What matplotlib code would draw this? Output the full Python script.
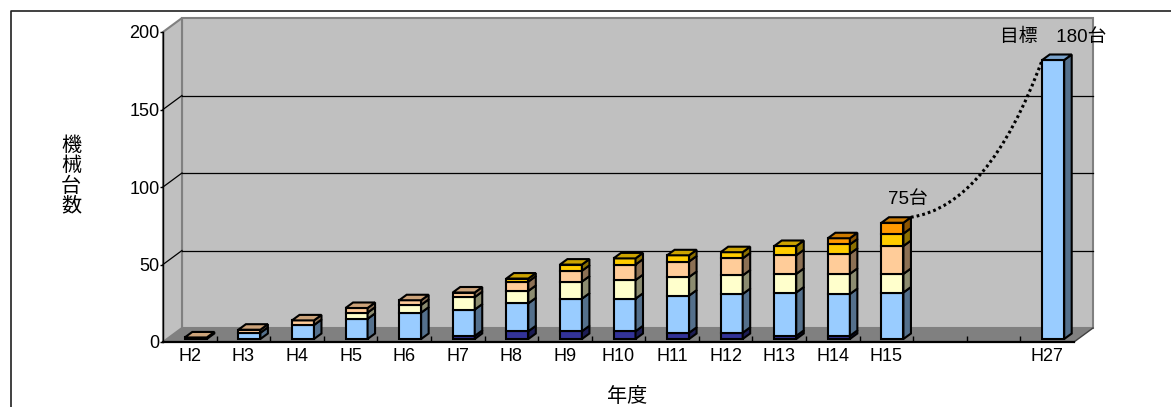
import matplotlib
matplotlib.use("Agg")
import matplotlib.pyplot as plt
import matplotlib.colors as mcolors
from matplotlib.patches import Polygon, PathPatch
from matplotlib.path import Path
from matplotlib.lines import Line2D

plt.rcParams['font.family'] = ['Liberation Sans', 'Noto Sans CJK JP', 'DejaVu Sans']

# ---- data -------------------------------------------------------------
categories = ["H2", "H3", "H4", "H5", "H6", "H7", "H8", "H9", "H10", "H11",
              "H12", "H13", "H14", "H15", "", "", "H27"]

navy   = [0, 0, 0, 0, 0, 2, 5, 5, 5, 4, 4, 2, 2, 0, 0, 0, 0]
blue   = [0, 4, 9, 13, 17, 17, 18, 21, 21, 24, 25, 28, 27, 30, 0, 0, 180]
yellow = [0, 0, 0, 4, 5, 8, 8, 11, 12, 12, 12, 12, 13, 12, 0, 0, 0]
peach  = [1, 2, 3, 3, 3, 3, 6, 7, 10, 10, 11, 12, 13, 18, 0, 0, 0]
gold   = [0, 0, 0, 0, 0, 0, 2, 4, 4, 4, 4, 6, 6, 8, 0, 0, 0]
orange = [0, 0, 0, 0, 0, 0, 0, 0, 0, 0, 0, 0, 4, 7, 0, 0, 0]

series = [navy, blue, yellow, peach, gold, orange]
colors = ["#333399", "#99CCFF", "#FFFFCC", "#FFCC99", "#FFCC00", "#FF9900"]

y_ticks = [0, 50, 100, 150, 200]
y_max = 200
current_idx = 13   # latest actual year
target_idx = 16    # target year

# ---- figure geometry ----------------------------------------------------
W, H, DPI = 1171, 407, 100
fig = plt.figure(figsize=(W / DPI, H / DPI), dpi=DPI)
ax_l, ax_b, ax_w, ax_h = 163, 65, 911, 310
ax = fig.add_axes([ax_l / W, ax_b / H, ax_w / W, ax_h / H])
n = len(categories)
ax.set_xlim(0, n)
ax.set_ylim(0, y_max)
ax.patch.set_facecolor("none")

ux = n / ax_w       # data units per pixel (x)
uy = y_max / ax_h   # data units per pixel (y)

def px(dx, dy):
    return dx * ux, dy * uy

wdx, wdy = px(19, 14)      # depth of the chart box
fdx, fdy = px(6, 3)        # front plane of the columns
ddx, ddy = px(7.5, 5.5)    # column depth
bw = 22 * ux               # column width

def shade(c, f):
    r, g, b = mcolors.to_rgb(c)
    return (r * f, g * f, b * f)

# ---- box: floor, walls, gridlines --------------------------------------
wall = "#C0C0C0"
edge_grey = "#808080"
ax.add_patch(Polygon([(0, 0), (n, 0), (n + wdx, wdy), (wdx, wdy)],
                     closed=True, fc="#808080", ec="none", zorder=1, clip_on=False))
ax.add_patch(Polygon([(wdx, wdy), (n + wdx, wdy), (n + wdx, y_max + wdy), (wdx, y_max + wdy)],
                     closed=True, fc=wall, ec=edge_grey, lw=1.5, zorder=1, clip_on=False))
ax.add_patch(Polygon([(0, 0), (wdx, wdy), (wdx, y_max + wdy), (0, y_max)],
                     closed=True, fc=wall, ec=edge_grey, lw=1.5, zorder=1.1, clip_on=False))
for v in y_ticks[1:-1]:
    ax.plot([wdx, n + wdx], [v + wdy, v + wdy], color="black", lw=0.9, zorder=1.2, clip_on=False)
    ax.plot([0, wdx], [v, v + wdy], color="black", lw=0.9, zorder=1.2, clip_on=False)
ax.plot([n, n + wdx], [0, wdy], color="#404040", lw=1.0, zorder=1.2, clip_on=False)

# ---- axes, ticks, labels -----------------------------------------------
for s in ("top", "right"):
    ax.spines[s].set_visible(False)
ax.spines["left"].set_color("black")
ax.spines["left"].set_linewidth(1.0)
ax.spines["bottom"].set_color("black")
ax.spines["bottom"].set_linewidth(1.6)

ax.set_yticks(y_ticks)
ax.set_yticklabels([str(v) for v in y_ticks], fontsize=13)
ax.tick_params(axis="y", direction="out", length=2, width=1, pad=0.5, colors="black")

ax.set_xticks([i + 0.5 for i in range(n)])
ax.set_xticklabels(categories, fontsize=13)
ax.tick_params(axis="x", which="major", length=0, pad=4.5)
ax.set_xticks(range(1, n), minor=True)
ax.tick_params(axis="x", which="minor", direction="in", length=4, width=1, color="black")

# ---- 3-D stacked columns -------------------------------------------------
totals = [sum(s[i] for s in series) for i in range(n)]
LW = 1.5
for i in range(n):
    if totals[i] <= 0:
        continue
    x0 = i + 0.5 - bw / 2 + fdx
    x1 = x0 + bw
    base = 0
    top_color = None
    for vals, col in zip(series, colors):
        v = vals[i]
        if v <= 0:
            continue
        y0, y1 = base + fdy, base + v + fdy
        ax.add_patch(Polygon([(x0, y0), (x1, y0), (x1, y1), (x0, y1)], closed=True,
                             fc=col, ec="black", lw=LW, zorder=3, joinstyle="miter"))
        ax.add_patch(Polygon([(x1, y0), (x1 + ddx, y0 + ddy), (x1 + ddx, y1 + ddy), (x1, y1)],
                             closed=True, fc=shade(col, 0.55), ec="black", lw=LW, zorder=3,
                             joinstyle="miter"))
        base += v
        top_color = col
    yt = base + fdy
    ax.add_patch(Polygon([(x0, yt), (x1, yt), (x1 + ddx, yt + ddy), (x0 + ddx, yt + ddy)],
                         closed=True, fc=shade(top_color, 0.8), ec="black", lw=LW, zorder=3.1,
                         joinstyle="miter", clip_on=False))

# ---- dotted trend curve from the latest year to the target ---------------
cur_top = totals[current_idx]
tgt_top = totals[target_idx]
p0 = (current_idx + 0.5 + bw / 2 + fdx + ddx, cur_top + fdy + ddy)
p2 = (target_idx + 0.5 - bw / 2 + fdx, tgt_top + fdy)
ctrl = (15.4, 88)
curve = Path([p0, ctrl, p2], [Path.MOVETO, Path.CURVE3, Path.CURVE3])
ax.add_patch(PathPatch(curve, fc="none", ec="black", lw=2.2, linestyle=(0, (0.9, 1.0)),
                       zorder=4, clip_on=False, capstyle="butt"))

ax.annotate(f"{cur_top}台", xy=(current_idx + 0.5, cur_top), xytext=(21, 26),
            textcoords="offset pixels", ha="center", va="center", fontsize=13.5, zorder=5)
ax.annotate(f"目標　{tgt_top}台", xy=(target_idx + 0.5, tgt_top), xytext=(6, 26),
            textcoords="offset pixels", ha="center", va="center", fontsize=13.5, zorder=5,
            annotation_clip=False)

# ---- axis titles ----------------------------------------------------------
fig.text(71 / W, 1 - 176 / H, "機\n械\n台\n数", ha="center", va="center",
         fontsize=14.5, linespacing=1.07)
fig.text(627 / W, 1 - 397 / H, "年度", ha="center", va="center", fontsize=14.5)

# ---- outer frame ------------------------------------------------------------
fig.add_artist(Line2D([10.5 / W, 10.5 / W, 1.0], [0.0, 1 - 10.5 / H, 1 - 10.5 / H],
                      transform=fig.transFigure, color="#202020", lw=1.2))

fig.savefig("out.png", dpi=DPI, facecolor="white")
